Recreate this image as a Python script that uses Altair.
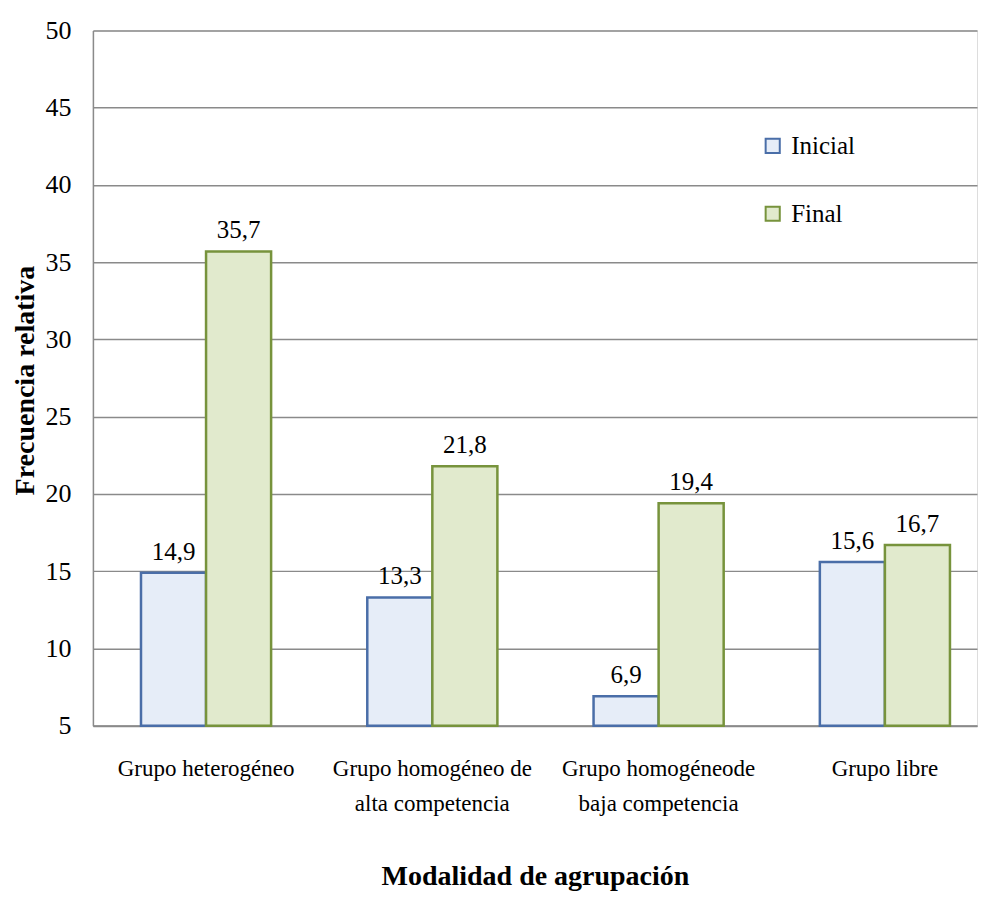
import altair as alt
import pandas as pd

categories = [
    "Grupo heterogéneo",
    "Grupo homogéneo de\nalta competencia",
    "Grupo homogéneode\nbaja competencia",
    "Grupo libre",
]
series = ["Inicial", "Final"]
inicial = [14.9, 13.3, 6.9, 15.6]
final = [35.7, 21.8, 19.4, 16.7]
y_ticks = [5, 10, 15, 20, 25, 30, 35, 40, 45, 50]

rows = []
for c, a, b in zip(categories, inicial, final):
    rows.append({"cat": c, "serie": "Inicial", "valor": a, "base": 5,
                 "etiqueta": f"{a:.1f}".replace(".", ",")})
    rows.append({"cat": c, "serie": "Final", "valor": b, "base": 5,
                 "etiqueta": f"{b:.1f}".replace(".", ",")})
df = pd.DataFrame(rows)

FONT = "Liberation Serif"
stroke_colors = ["#4a6ea8", "#77933c"]
fill_colors = ["#e6edf8", "#e1eacd"]

x_enc = alt.X(
    "cat:N", sort=categories,
    scale=alt.Scale(paddingInner=0.425, paddingOuter=0.166, align=0.64),
    axis=alt.Axis(
        title="Modalidad de agrupación",
        labelExpr="split(datum.label, '\\n')",
        labelAngle=0, labelFont=FONT, labelFontSize=23, labelColor="#000000",
        labelLineHeight=35, labelPadding=32, labelBaseline="top", labelLimit=0,
        ticks=False, domainColor="#8a8a8a", domainWidth=2,
        titleFont=FONT, titleFontSize=28, titleFontWeight="bold", titleColor="#000000",
        titleY=151, titleBaseline="middle",
    ),
)
x_off = alt.XOffset("serie:N", sort=series)

y_scale = alt.Scale(domain=[5, 50], zero=False, nice=False)

bars = alt.Chart(df).mark_bar(strokeWidth=2.5).encode(
    x=x_enc,
    xOffset=x_off,
    y=alt.Y(
        "valor:Q", scale=y_scale,
        axis=alt.Axis(
            title="Frecuencia relativa", values=y_ticks,
            labelFont=FONT, labelFontSize=26, labelColor="#000000", labelPadding=22,
            ticks=False, domainColor="#8a8a8a", domainWidth=1.5,
            gridColor="#8a8a8a", gridWidth=1.5,
            titleFont=FONT, titleFontSize=28, titleFontWeight="bold", titleColor="#000000",
            titleAngle=-90, titleX=-67, titleY=350, titleBaseline="middle", titleAlign="center",
        ),
    ),
    y2="base:Q",
    fill=alt.Fill("serie:N", sort=series,
                  scale=alt.Scale(domain=series, range=fill_colors),
                  legend=alt.Legend(
                      title=None, orient="none", legendX=668, legendY=103,
                      symbolType="square", symbolSize=200, symbolStrokeWidth=2,
                      labelFont=FONT, labelFontSize=25, labelColor="#000000",
                      labelOffset=6, rowPadding=42,
                  )),
    stroke=alt.Stroke("serie:N", sort=series,
                      scale=alt.Scale(domain=series, range=stroke_colors)),
)

labels = alt.Chart(df).mark_text(
    font=FONT, fontSize=25, color="#000000", baseline="bottom", dy=-8
).encode(
    x=alt.X("cat:N", sort=categories),
    xOffset=x_off,
    y=alt.Y("valor:Q", scale=y_scale),
    text="etiqueta:N",
)

chart = alt.layer(bars, labels).properties(
    width=885, height=696,
    autosize=alt.AutoSizeParams(type="none"),
    padding={"left": 85, "top": 22, "right": 2, "bottom": 165},
).configure_view(stroke=None).configure(background="white")

chart.save("out.html", embed_options={"renderer": "svg", "actions": False})
